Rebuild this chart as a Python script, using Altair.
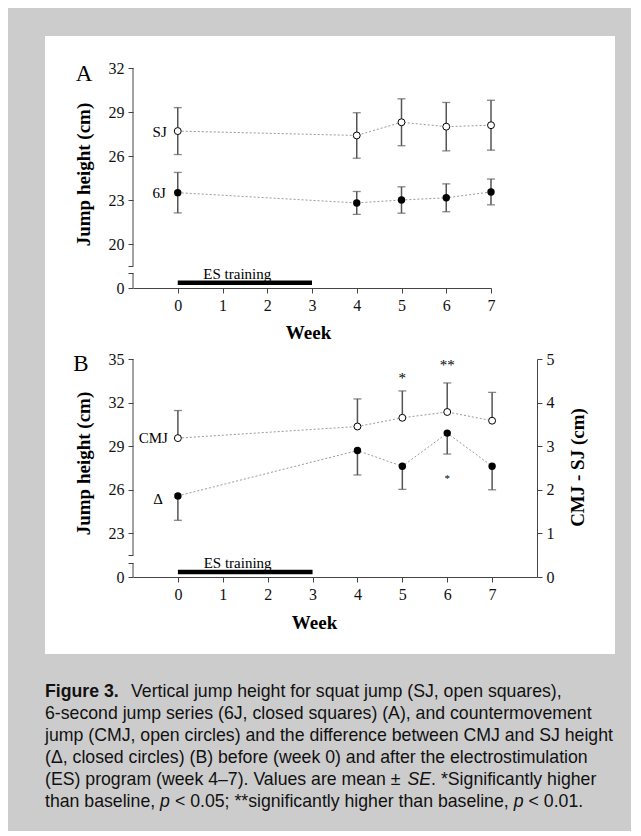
import altair as alt
import pandas as pd

# ---------------- data ----------------
weeks = [0, 4, 5, 6, 7]
sj_mean = [27.7, 27.4, 28.3, 28.0, 28.1]
sj_se = [1.6, 1.55, 1.6, 1.65, 1.7]
j6_mean = [23.5, 22.8, 23.0, 23.15, 23.55]
j6_se = [1.38, 0.78, 0.9, 0.95, 0.88]
cmj_mean = [29.55, 30.35, 30.95, 31.35, 30.75]
cmj_se = [1.9, 1.9, 1.85, 2.0, 1.95]
delta_mean = [1.86, 2.9, 2.54, 3.3, 2.54]
delta_se = [0.56, 0.56, 0.53, 0.48, 0.54]

week_ticks = [0, 1, 2, 3, 4, 5, 6, 7]
a_y_ticks = [0, 20, 23, 26, 29, 32]
b_y_ticks = [0, 23, 26, 29, 32, 35]
b_y2_ticks = [0, 1, 2, 3, 4, 5]
a_break = [1, 18.5]      # broken-axis limits (panel A)
b_break = [1, 21.5]      # broken-axis limits (panel B)

es_weeks = [0, 3]
es_label = "ES training"
es_label_week = 1.33
es_level = 0.35

sig_weeks = [5, 6]
sig_marks = ["*", "**"]
sig_level = [33.9, 34.8]
delta_sig_weeks = [6]
delta_sig_marks = ["*"]
delta_sig_level = [2.32]

# caption: list of lines, each a list of (text, style) segments
caption_segments = [
    [("Figure 3.", "bold"), ("Vertical jump height for squat jump (SJ, open squares),", "normal")],
    [("6-second jump series (6J, closed squares) (A), and countermovement", "normal")],
    [("jump (CMJ, open circles) and the difference between CMJ and SJ height", "normal")],
    [("(\u0394, closed circles) (B) before (week 0) and after the electrostimulation", "normal")],
    [("(ES) program (week 4\u20137). Values are mean \u00b1 ", "normal"), ("SE", "italic"),
     (". *Significantly higher", "normal")],
    [("than baseline, ", "normal"), ("p", "italic"), (" < 0.05; **significantly higher than baseline, ", "normal"),
     ("p", "italic"), (" < 0.01.", "normal")],
]

SERIF = "Liberation Serif"
SANS = "Liberation Sans"
AX = "#444444"
ERR = "#555555"
CAP_SIZE = 17.7

# advance widths (1/1000 em) of Liberation Sans (Arial metrics), for placing caption segments
ADV = {" ": 278, "(": 333, ")": 333, "E": 667, "S": 667, "V": 667, "p": 556, "r": 333, "o": 556,
       "g": 556, "a": 556, "m": 833, "w": 722, "e": 556, "k": 500, "4": 556, "\u2013": 556, "7": 556,
       ".": 278, "l": 222, "u": 556, "s": 500, "n": 556, "\u00b1": 584, "t": 278, "h": 556, "b": 556,
       "i": 222, ",": 278, "<": 584, "0": 556, "5": 556, ";": 278, "*": 389, "f": 278, "c": 500,
       "y": 500, "1": 556, "d": 556, "v": 500}


def text_w(s):
    return sum(ADV.get(ch, 556) for ch in s) * CAP_SIZE / 1000.0


def frame(label, mean, se, lower=True, upper=True):
    return pd.DataFrame({
        "week": weeks,
        "mean": mean,
        "lo": [m - s if lower else m for m, s in zip(mean, se)],
        "hi": [m + s if upper else m for m, s in zip(mean, se)],
        "label": [label] * len(weeks),
    })


sj = frame("SJ", sj_mean, sj_se)
j6 = frame("6J", j6_mean, j6_se)
cmj = frame("CMJ", cmj_mean, cmj_se, lower=False)
dl = frame("\u0394", delta_mean, delta_se, upper=False)


def series_layers(df, X, Y, filled, label_dx, label_dy=0, caps=("lo", "hi")):
    line = alt.Chart(df).mark_line(color="#9a9a9a", strokeWidth=1, strokeDash=[2, 2]).encode(
        x=X("week"), y=Y("mean"))
    err = alt.Chart(df).mark_rule(color=ERR, strokeWidth=1.5).encode(
        x=X("week"), y=Y("lo"), y2="hi")
    cap_layers = [
        alt.Chart(df).mark_tick(orient="horizontal", size=8, thickness=1.3, color=ERR).encode(
            x=X("week"), y=Y(c))
        for c in caps
    ]
    if filled:
        pts = alt.Chart(df).mark_circle(size=55, color="black", opacity=1).encode(
            x=X("week"), y=Y("mean"))
    else:
        pts = alt.Chart(df).mark_point(shape="circle", filled=True, fill="white", stroke="black",
                                       strokeWidth=1, size=48, opacity=1).encode(
            x=X("week"), y=Y("mean"))
    lab = alt.Chart(df.head(1)).mark_text(align="right", baseline="middle", dx=label_dx, dy=label_dy,
                                          font=SERIF, fontSize=15, color="black").encode(
        x=X("week"), y=Y("mean"), text="label")
    return [line, err] + cap_layers + [pts, lab]


# ---------------- panel A ----------------
xA_scale = alt.Scale(domain=[-1, 7], nice=False, zero=False)
yA_scale = alt.Scale(domain=[0, a_break[0], a_break[1], 32], range=[220, 205, 198, 0], nice=False, zero=False)
xA_axis = alt.Axis(values=week_ticks, title="Week", titleX=175, titleY=44, titleAlign="center",
                   titleBaseline="middle", labelOverlap=False, labelFlush=False, zindex=1)
yA_axis = alt.Axis(values=[0, a_break[0], a_break[1]] + a_y_ticks[1:], domain=False,
                   labelExpr="(datum.value == %s || datum.value == %s) ? '' : datum.label" % (a_break[0], a_break[1]),
                   title="Jump height (cm)", titleX=-50, titleY=106, titleAngle=270,
                   titleAlign="center", titleBaseline="middle", labelOverlap=False, zindex=1)


def XA(f):
    return alt.X(f, type="quantitative", scale=xA_scale, axis=xA_axis)


def YA(f):
    return alt.Y(f, type="quantitative", scale=yA_scale, axis=yA_axis)


white = alt.Chart(pd.DataFrame({"k": [0]})).mark_rect(color="white").encode(
    x=alt.value(-88), x2=alt.value(482), y=alt.value(-32), y2=alt.value(586))

segA = pd.DataFrame({"week": [-1, -1], "lo": [0, a_break[1]], "hi": [a_break[0], 32]})
axisA = alt.Chart(segA).mark_rule(color=AX, strokeWidth=1).encode(x=XA("week"), y=YA("lo"), y2="hi")

es_df = pd.DataFrame({"start": [es_weeks[0]], "end": [es_weeks[1]], "level": [es_level],
                      "mid": [es_label_week], "t": [es_label]})
esA = alt.Chart(es_df).mark_rule(color="black", strokeWidth=4.5, strokeCap="butt").encode(
    x=XA("start"), x2="end", y=YA("level"))
esA_t = alt.Chart(es_df).mark_text(font=SERIF, fontSize=15, baseline="alphabetic", dy=-4, color="black").encode(
    x=XA("mid"), y=YA("level"), text="t")

letterA = alt.Chart(pd.DataFrame({"week": [-1], "v": [32], "t": ["A"]})).mark_text(
    font=SERIF, fontSize=23, dx=-49, dy=6, baseline="middle", align="center", color="black").encode(
    x=XA("week"), y=YA("v"), text="t")

panelA = alt.layer(
    white, axisA, esA, esA_t, letterA,
    *series_layers(sj, XA, YA, False, -11, 1),
    *series_layers(j6, XA, YA, True, -12, 0),
).properties(width=358, height=220)

# ---------------- panel B ----------------
xB_scale = alt.Scale(domain=[-1, 8], nice=False, zero=False)
yB_scale = alt.Scale(domain=[0, b_break[0], b_break[1], 35], range=[218, 204, 196, 0], nice=False, zero=False)
yB2_scale = alt.Scale(domain=[0, 5], nice=False, zero=False)
xB_axis = alt.Axis(values=week_ticks, title="Week", titleX=181, titleY=45, titleAlign="center",
                   titleBaseline="middle", labelOverlap=False, labelFlush=False, zindex=1)
yB_axis = alt.Axis(values=[0, b_break[0], b_break[1]] + b_y_ticks[1:], domain=False,
                   labelExpr="(datum.value == %s || datum.value == %s) ? '' : datum.label" % (b_break[0], b_break[1]),
                   title="Jump height (cm)", titleX=-50, titleY=104, titleAngle=270,
                   titleAlign="center", titleBaseline="middle", labelOverlap=False, zindex=1)
yB2_axis = alt.Axis(orient="right", values=b_y2_ticks, title="CMJ - SJ (cm)", titleX=40, titleY=108,
                    titleAngle=270, titleAlign="center", titleBaseline="middle", labelOverlap=False, zindex=1)


def XB(f):
    return alt.X(f, type="quantitative", scale=xB_scale, axis=xB_axis)


def YB(f):
    return alt.Y(f, type="quantitative", scale=yB_scale, axis=yB_axis)


def YB2(f):
    return alt.Y(f, type="quantitative", scale=yB2_scale, axis=yB2_axis)


segB = pd.DataFrame({"week": [-1, -1], "lo": [0, b_break[1]], "hi": [b_break[0], 35]})
axisB = alt.Chart(segB).mark_rule(color=AX, strokeWidth=1).encode(x=XB("week"), y=YB("lo"), y2="hi")
esB = alt.Chart(es_df).mark_rule(color="black", strokeWidth=4.5, strokeCap="butt").encode(
    x=XB("start"), x2="end", y=YB("level"))
esB_t = alt.Chart(es_df).mark_text(font=SERIF, fontSize=15, baseline="alphabetic", dy=-4, color="black").encode(
    x=XB("mid"), y=YB("level"), text="t")
letterB = alt.Chart(pd.DataFrame({"week": [-1], "v": [35], "t": ["B"]})).mark_text(
    font=SERIF, fontSize=23, dx=-52, dy=5, baseline="middle", align="center", color="black").encode(
    x=XB("week"), y=YB("v"), text="t")
sig = alt.Chart(pd.DataFrame({"week": sig_weeks, "v": sig_level, "t": sig_marks})).mark_text(
    font=SERIF, fontSize=15, baseline="middle", dy=3, color="black").encode(
    x=XB("week"), y=YB("v"), text="t")

left = alt.layer(
    axisB, esB, esB_t, letterB, sig,
    *series_layers(cmj, XB, YB, False, -10, 0, caps=("hi",)),
)

dsig = alt.Chart(pd.DataFrame({"week": delta_sig_weeks, "v": delta_sig_level, "t": delta_sig_marks})).mark_text(
    font=SERIF, fontSize=11, baseline="middle", dy=3, color="black").encode(
    x=XB("week"), y=YB2("v"), text="t")
right = alt.layer(
    *series_layers(dl, XB, YB2, True, -15, 3, caps=("lo",)),
    dsig,
)

panelB = alt.layer(left, right).resolve_scale(y="independent").properties(width=404, height=218)

# ---------------- caption ----------------
rows = []
for i, segs in enumerate(caption_segments):
    off = 0.0
    for txt, style in segs:
        stripped = txt.lstrip(" ")
        off += text_w(txt[: len(txt) - len(stripped)])   # leading spaces are collapsed in SVG
        rows.append({"idx": i, "off": off, "t": stripped, "style": style})
        off += 86 if style == "bold" else text_w(stripped)
cap_df = pd.DataFrame(rows)
ycap = alt.Y("idx:Q", scale=alt.Scale(domain=[0, len(caption_segments) - 1], range=[44, 154]), axis=None)
xcap = alt.X("off:Q", scale=alt.Scale(domain=[0, 570], range=[-88, 482]), axis=None)
cap_layers = []
for style in ["bold", "normal", "italic"]:
    kw = {"fontWeight": "bold"} if style == "bold" else ({"fontStyle": "italic"} if style == "italic" else {})
    cap_layers.append(
        alt.Chart(cap_df[cap_df["style"] == style]).mark_text(
            font=SANS, fontSize=CAP_SIZE, align="left", baseline="middle", color="#111", **kw).encode(
            x=xcap, y=ycap, text="t")
    )
caption = alt.layer(*cap_layers).properties(width=400, height=160)

chart = alt.vconcat(panelA, panelB, caption, spacing=71, bounds="flush").properties(
    background="#cccccc",
    padding={"left": 36, "top": 27, "right": 15, "bottom": 19},
).configure_view(stroke="transparent").configure_axis(
    labelFont=SERIF, labelFontSize=16, labelColor="#111", titleFont=SERIF, titleFontSize=19,
    titleFontWeight="bold", titleColor="#000", domainColor=AX, tickColor=AX, tickSize=5,
    labelPadding=4, grid=False, domainWidth=1, tickWidth=1,
)

chart.save("out.html", embed_options={"renderer": "svg", "actions": False})
